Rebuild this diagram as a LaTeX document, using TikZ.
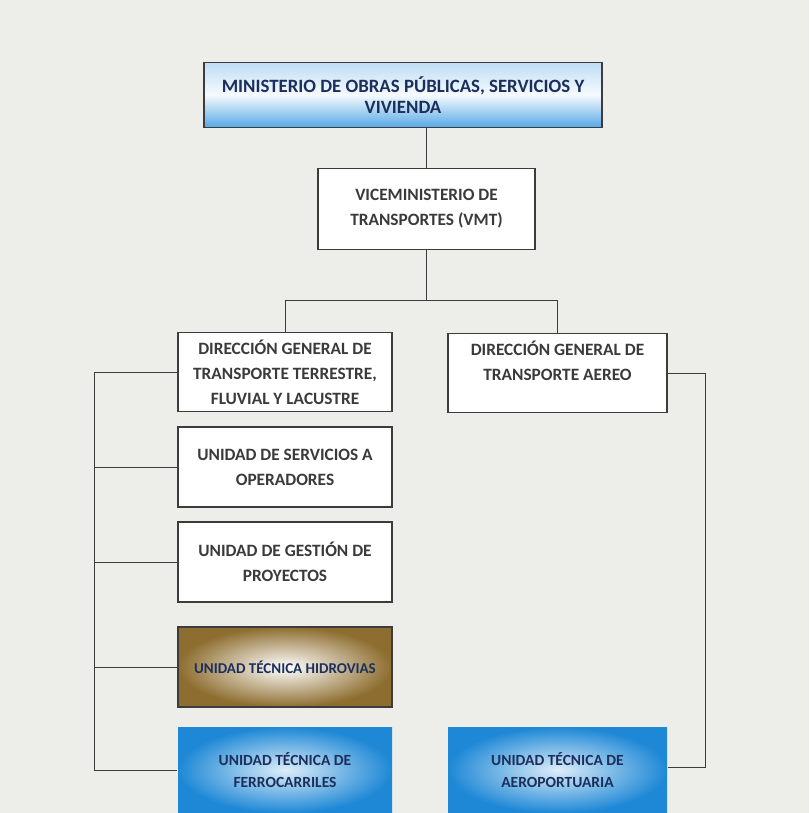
\documentclass[tikz,border=0pt]{standalone}
\usepackage{fontspec}
\setmainfont{Carlito}
\usetikzlibrary{positioning}
\definecolor{bg}{HTML}{EDEDEA}
\definecolor{txt}{HTML}{3A3A3A}
\definecolor{navy}{HTML}{1C2F5C}
\definecolor{lblue}{HTML}{BFDDF5}
\definecolor{mblue}{HTML}{55A8E6}
\definecolor{sblue}{HTML}{1E88D6}
\definecolor{gold}{HTML}{8E6E30}
\definecolor{lnc}{HTML}{3C3C3C}
\tikzset{
  box/.style={draw=lnc, line width=1.3pt, fill=white, align=center, text=txt,
    font=\fontsize{17.3}{25}\selectfont\bfseries, inner sep=0pt},
  topbox/.style={box, top color=lblue, bottom color=mblue, middle color=white!85!lblue, text=navy,
    font=\fontsize{18.8}{21}\selectfont\bfseries},
  bluebox/.style={box, shading=radial, inner color=white!85!sblue, outer color=sblue, draw=none, text=navy,
    font=\fontsize{15.5}{22}\selectfont\bfseries},
  goldbox/.style={box, shading=radial, inner color=white, outer color=gold, text=navy,
    font=\fontsize{15}{22}\selectfont\bfseries},
  conn/.style={draw=lnc, line width=1pt}
}
\begin{document}
\begin{tikzpicture}[x=1pt,y=-1pt]
\fill[bg] (0,0) rectangle (809,813);
\useasboundingbox (0,0) rectangle (809,813);
\begin{scope}
\clip (0,0) rectangle (809,813);
\node[topbox, minimum width=398pt, minimum height=65pt] (min) at (403,95) {MINISTERIO DE OBRAS PÚBLICAS, SERVICIOS Y\\VIVIENDA};
\node[box, minimum width=217pt, minimum height=81pt] (vmt) at (426.5,209) {VICEMINISTERIO DE\\TRANSPORTES (VMT)};
\node[box, minimum width=214pt, minimum height=79pt] (dgt) at (285,372) {DIRECCIÓN GENERAL DE\\TRANSPORTE TERRESTRE,\\FLUVIAL Y LACUSTRE};
\node[box, minimum width=219pt, minimum height=79pt] (dga) at (557.5,373) {DIRECCIÓN GENERAL DE\\TRANSPORTE AEREO\\\mbox{}};
\node[box, minimum width=214pt, minimum height=80pt] (uso) at (285,467) {UNIDAD DE SERVICIOS A\\OPERADORES};
\node[box, minimum width=214pt, minimum height=80pt] (ugp) at (285,562) {UNIDAD DE GESTIÓN DE\\PROYECTOS};
\node[goldbox, minimum width=214pt, minimum height=80pt] (uth) at (285,667) {UNIDAD TÉCNICA HIDROVIAS};
\node[bluebox, minimum width=214pt, minimum height=86pt] (utf) at (285,770) {UNIDAD TÉCNICA DE\\FERROCARRILES};
\node[bluebox, minimum width=219pt, minimum height=86pt] (uta) at (557.5,770) {UNIDAD TÉCNICA DE\\AEROPORTUARIA};
\end{scope}
\coordinate (bus) at (426.5,300);
\coordinate (lt) at (94,0);
\coordinate (rt) at (705,0);
\draw[conn] (min.south -| vmt.north) -- (vmt.north);
\draw[conn] (vmt) -- (bus);
\draw[conn] (dgt.north) -- (dgt.north |- bus) -- (dga.north |- bus) -- (dga.north);
\draw[conn] (dgt.west) -- (dgt.west -| lt) -- (utf.west -| lt) -- (utf.west);
\draw[conn] (uso.west) -- (uso.west -| lt);
\draw[conn] (ugp.west) -- (ugp.west -| lt);
\draw[conn] (uth.west) -- (uth.west -| lt);
\draw[conn] (dga.east) -- (dga.east -| rt) -- ([yshift=3pt]uta.east -| rt) -- ([yshift=3pt]uta.east);
\end{tikzpicture}
\end{document}
